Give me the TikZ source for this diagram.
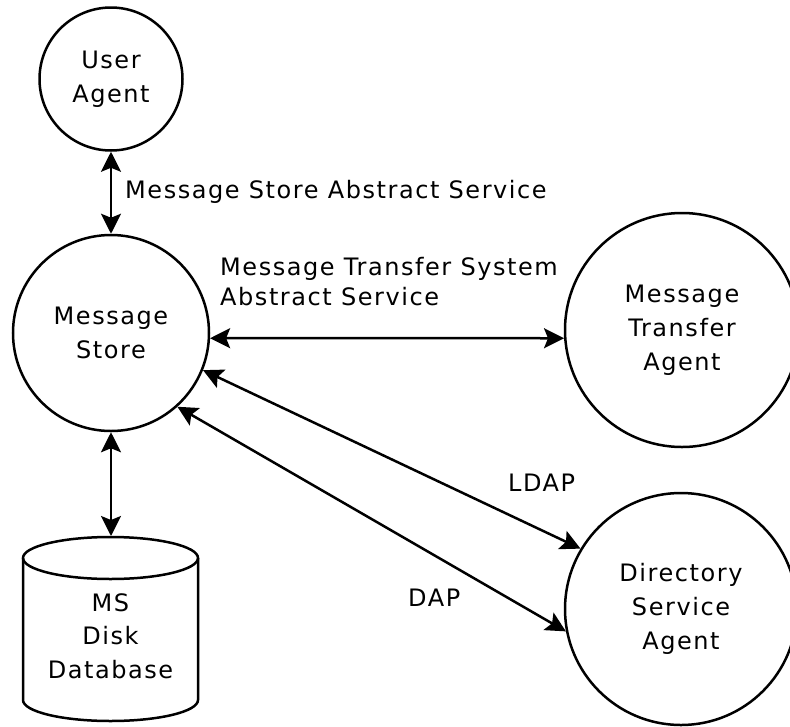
\documentclass[tikz,border=0pt]{standalone}
\usepackage{fontspec}
\setmainfont{DejaVu Sans}[LetterSpace=6.5]
\usetikzlibrary{arrows.meta}
\begin{document}
\begin{tikzpicture}[x=1pt,y=-1pt,
  every node/.style={inner sep=0pt},
  agent/.style={draw, circle, line width=2.5pt, align=center,
    font=\fontsize{24}{34}\selectfont},
  lbl/.style={align=left, font=\fontsize{24}{30}\selectfont},
  link/.style={line width=2.5pt, {Stealth[length=20pt,width=20pt,inset=4pt]}-{Stealth[length=20pt,width=20pt,inset=4pt]}}
]
\useasboundingbox (0,0) rectangle (790,726);
\clip (0,0) rectangle (790,726);

\node[agent, minimum size=143pt] (ua) at (111,79) {User\\Agent};
\node[agent, minimum size=196pt] (ms) at (111,333) {Message\\Store};
\node[agent, minimum size=234pt] (mta) at (682,330) {Message\\Transfer\\Agent};
\node[agent, minimum size=232pt] (dsa) at (681,609) {Directory\\Service\\Agent};

% database cylinder
\draw[line width=2.5pt] (110.5,558) ellipse[x radius=87.5pt, y radius=21pt];
\draw[line width=2.5pt] (23,558) -- (23,700) arc[start angle=180, end angle=360, x radius=87.5pt, y radius=21pt] -- (198,558);
\node[align=center, font=\fontsize{24}{33.5}\selectfont] (db) at (110.5,636) {MS\\Disk\\Database};
\coordinate (dbtop) at (111,536);

% connectors
\draw[link] (ua.south) -- (ms.north);
\draw[link] (ms.south) -- (dbtop);
\draw[link] (ms.-3) -- (mta.184);
\draw[link] (ms.-22) -- (dsa.149);
\draw[link] (ms.-48) -- (dsa.191);

% labels
\node[lbl, anchor=base west] (l1) at (125,198) {Message Store Abstract Service};
\node[lbl, anchor=north west] (l2) at (220,257) {Message Transfer System\\Abstract Service};
\node[lbl, anchor=base west] (l3) at (508,491) {LDAP};
\node[lbl, anchor=base west] (l4) at (408,606) {DAP};
\end{tikzpicture}
\end{document}
